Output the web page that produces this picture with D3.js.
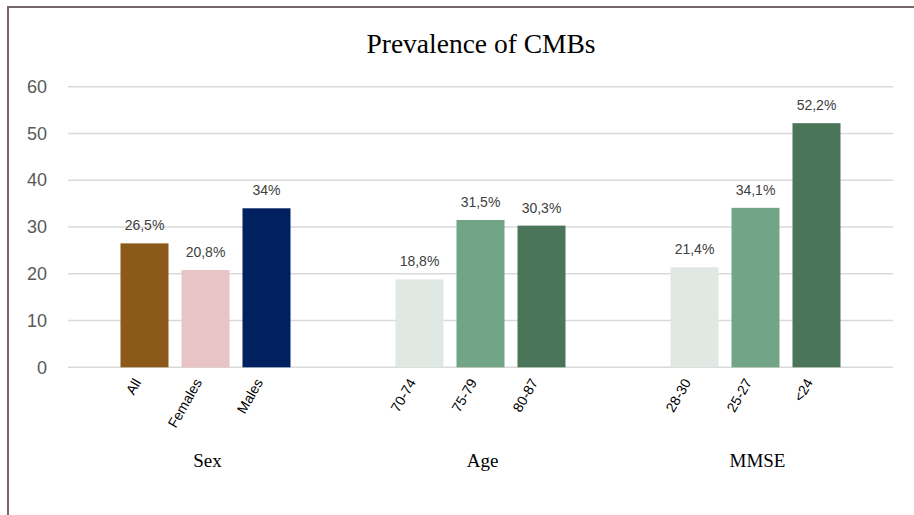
<!DOCTYPE html>
<html><head><meta charset="utf-8">
<script src="https://cdn.jsdelivr.net/npm/d3@7"></script>
<style>body{margin:0;background:#fff;}svg{display:block;}</style>
</head><body>
<script>
const groups = ["Sex", "Age", "MMSE"];
const categories = [
  ["All", "Females", "Males"],
  ["70-74", "75-79", "80-87"],
  ["28-30", "25-27", "<24"]
];
const values = [
  [26.5, 20.8, 34],
  [18.8, 31.5, 30.3],
  [21.4, 34.1, 52.2]
];
const valueLabels = [
  ["26,5%", "20,8%", "34%"],
  ["18,8%", "31,5%", "30,3%"],
  ["21,4%", "34,1%", "52,2%"]
];
const colors = [
  ["#8B5A1A", "#E8C4C6", "#002060"],
  ["#DFE8E3", "#72A486", "#4A7559"],
  ["#DFE8E3", "#72A486", "#4A7559"]
];
const yTicks = [0, 10, 20, 30, 40, 50, 60];
const title = "Prevalence of CMBs";

const W = 914, H = 515;
const svg = d3.select("body").append("svg").attr("width", W).attr("height", H);

// frame
svg.append("path").attr("d", "M8,515 L8,7 L914,7").attr("fill", "none")
  .attr("stroke", "#76686A").attr("stroke-width", 2);

const x0 = d3.scaleBand().domain(groups).range([68, 893]).padding(0);
const x1 = d3.scaleBand().domain([0, 1, 2]).range([-91.5, 91.5]).paddingInner(13 / 61).paddingOuter(6.5 / 61);
const y = d3.scaleLinear().domain([0, 60]).range([367.3, 86.7]);

// gridlines
svg.append("g").selectAll("line").data(yTicks).join("line")
  .attr("x1", 68).attr("x2", 893)
  .attr("y1", d => y(d)).attr("y2", d => y(d))
  .attr("stroke", "#D9D9D9").attr("stroke-width", 1.5);

// y axis labels
const yAxis = d3.axisLeft(y).tickValues(yTicks).tickSize(0).tickPadding(0);
const gy = svg.append("g").attr("transform", "translate(47,0)").call(yAxis);
gy.select(".domain").remove();
gy.selectAll("text").attr("font-family", "Arial, 'Liberation Sans', sans-serif")
  .attr("font-size", 18).attr("fill", "#595959");

// title
svg.append("text").attr("x", 481).attr("y", 53).attr("text-anchor", "middle")
  .attr("font-family", "'Times New Roman', 'Liberation Serif', serif")
  .attr("font-size", 27.5).attr("fill", "#000").text(title);

groups.forEach((g, gi) => {
  const cx = x0(g) + x0.bandwidth() / 2;
  const gg = svg.append("g").attr("transform", `translate(${cx},0)`);
  const data = values[gi].map((v, i) => ({v, i}));
  gg.selectAll("rect").data(data).join("rect")
    .attr("x", d => x1(d.i)).attr("width", x1.bandwidth())
    .attr("y", d => y(d.v)).attr("height", d => y(0) - y(d.v))
    .attr("fill", d => colors[gi][d.i]);
  gg.selectAll("text.val").data(data).join("text").attr("class", "val")
    .attr("x", d => x1(d.i) + x1.bandwidth() / 2).attr("y", d => y(d.v) - 13)
    .attr("text-anchor", "middle")
    .attr("font-family", "Arial, 'Liberation Sans', sans-serif")
    .attr("font-size", 14).attr("fill", "#404040")
    .text(d => valueLabels[gi][d.i]);
  gg.selectAll("text.cat").data(data).join("text").attr("class", "cat")
    .attr("text-anchor", "end")
    .attr("transform", d => `translate(${x1(d.i) + x1.bandwidth() / 2 - 3},${y(0) + 15}) rotate(-60)`)
    .attr("font-family", "Arial, 'Liberation Sans', sans-serif")
    .attr("font-size", 14).attr("fill", "#000")
    .text(d => categories[gi][d.i]);
  svg.append("text").attr("x", cx + 2).attr("y", 467).attr("text-anchor", "middle")
    .attr("font-family", "'Times New Roman', 'Liberation Serif', serif")
    .attr("font-size", 19).attr("fill", "#000").text(g);
});
</script>
</body></html>
